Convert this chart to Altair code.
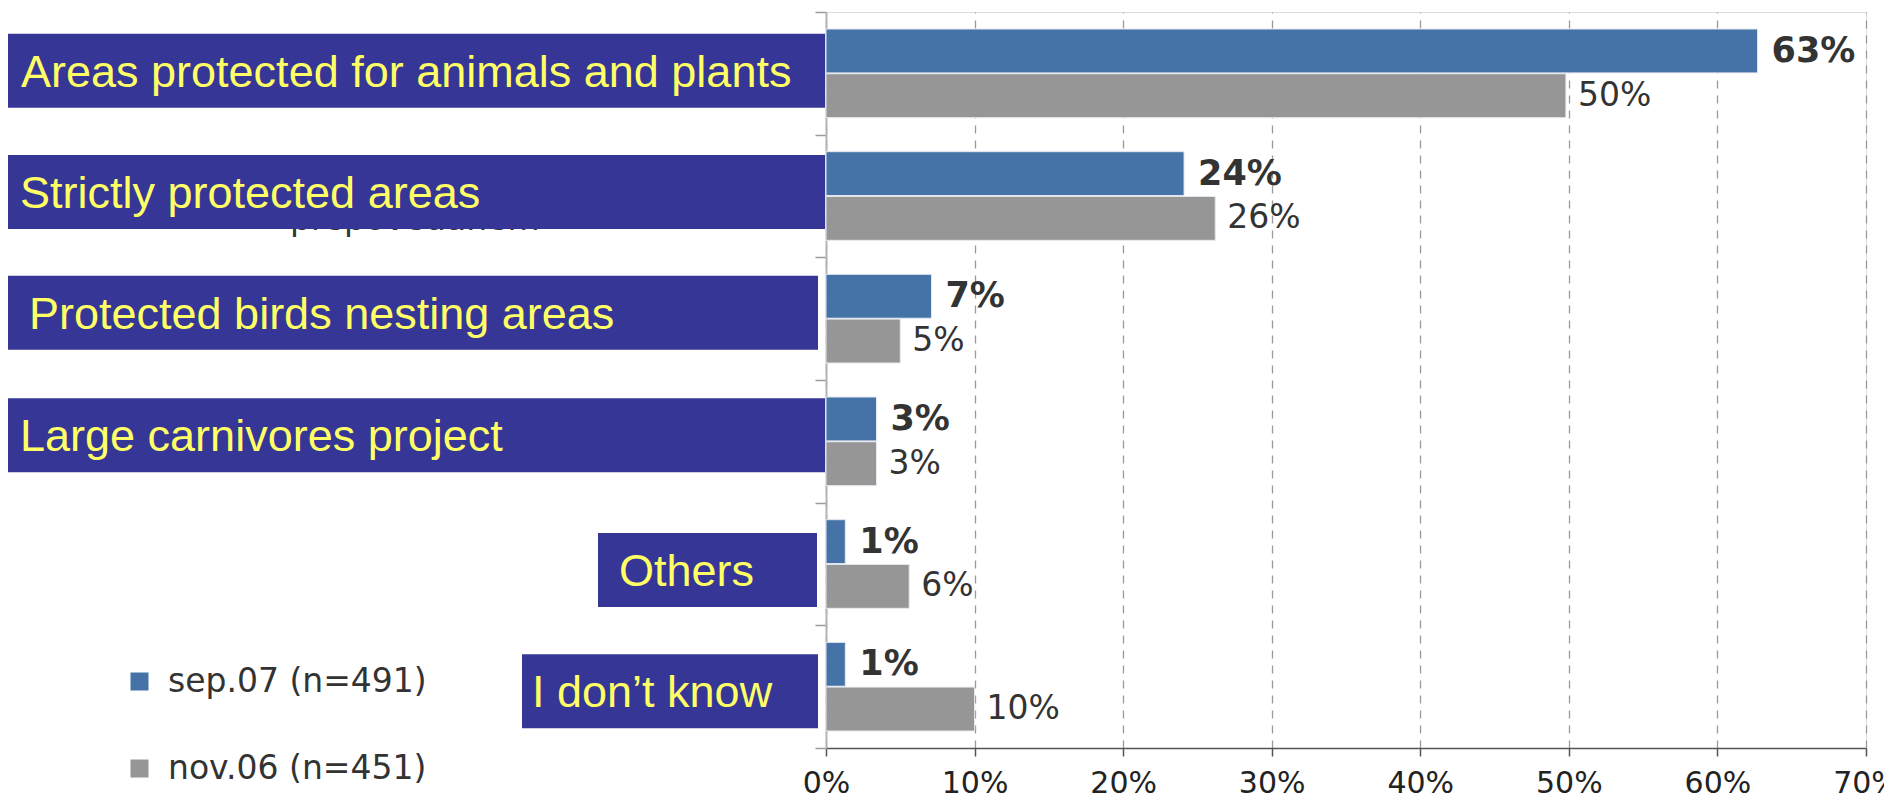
import altair as alt
import pandas as pd

# ---------------- data ----------------
categories = [
    "Areas protected for animals and plants",
    "Strictly protected areas",
    "Protected birds nesting areas",
    "Large carnivores project",
    "Others",
    "I don’t know",
]
series = ["sep.07 (n=491)", "nov.06 (n=451)"]
sep07 = [62.7, 24.1, 7.1, 3.4, 1.3, 1.3]
nov06 = [49.8, 26.2, 5.0, 3.4, 5.6, 10.0]
x_ticks = [0, 10, 20, 30, 40, 50, 60, 70]
hidden_text = "prepovedanem"

# ---------------- layout (pixels relative to plot origin) ----------------
box_left = [-818, -818, -818, -818, -228, -304]
box_right = [-1, -1, -8, -1, -9, -8]
text_left = [-805, -806, -797, -806, -207, -294]
box_dy = [-2.5, -4, -6, -6, 6, 4.5]

BLUE = "#4573a7"
GRAY = "#969696"
BOX = "#363696"
YELLOW = "#ffff66"

rows = []
for s, vals in zip(series, [sep07, nov06]):
    for c, v in zip(categories, vals):
        rows.append({"category": c, "series": s, "value": v, "label": f"{round(v)}%"})
df = pd.DataFrame(rows)
cat_df = pd.DataFrame({"category": categories})

y_enc = alt.Y(
    "category:N",
    sort=categories,
    scale=alt.Scale(domain=categories, paddingInner=0, paddingOuter=0),
    axis=alt.Axis(
        title=None, labels=False, grid=False, tickBand="extent",
        domainColor="#b4b4b4", domainWidth=2,
        tickColor="#9a9a9a", tickSize=11, tickWidth=1.5,
    ),
)
yoff_enc = alt.YOffset(
    "series:N", sort=series,
    scale=alt.Scale(domain=series, paddingInner=0.02, paddingOuter=0.38),
)
x_enc = alt.X(
    "value:Q",
    scale=alt.Scale(domain=[0, 70], nice=False, zero=True),
    axis=alt.Axis(
        values=x_ticks, labelExpr="datum.value + '%'", title=None,
        grid=True, gridDash=[8, 7], gridColor="#9a9a9a", gridWidth=1.3,
        domainColor="#555555", domainWidth=1.5,
        tickColor="#555555", tickSize=8, tickWidth=1.5,
        labelFont="DejaVu Sans", labelFontSize=30, labelColor="#222222",
        labelPadding=12, labelFlush=False, labelOverlap=False,
    ),
)

base = alt.Chart(df)

bars = base.mark_bar(stroke="#e4e9f0", strokeWidth=1).encode(
    y=y_enc,
    yOffset=yoff_enc,
    x=x_enc,
    color=alt.Color(
        "series:N",
        sort=series,
        scale=alt.Scale(domain=series, range=[BLUE, GRAY]),
        legend=alt.Legend(
            title=None, orient="none", legendX=-703, legendY=653,
            symbolType="square", symbolSize=324, symbolStrokeWidth=0,
            labelFont="DejaVu Sans", labelFontSize=33, labelColor="#333333",
            labelOffset=12, rowPadding=53, padding=0, labelLimit=0,
        ),
    ),
)

lab_sep = base.transform_filter(alt.datum.series == series[0]).mark_text(
    align="left", baseline="middle", dx=14, font="DejaVu Sans",
    fontSize=35, fontWeight="bold", color="#333333",
).encode(y=y_enc, yOffset=yoff_enc, x="value:Q", text="label:N")

lab_nov = base.transform_filter(alt.datum.series == series[1]).mark_text(
    align="left", baseline="middle", dx=12, font="DejaVu Sans",
    fontSize=33, color="#333333",
).encode(y=y_enc, yOffset=yoff_enc, x="value:Q", text="label:N")

hidden = alt.Chart(cat_df).transform_filter(
    alt.datum.category == categories[1]
).mark_text(
    align="left", baseline="alphabetic", dy=34, font="DejaVu Sans",
    fontSize=33, color="#333333",
).encode(y=y_enc, x=alt.value(-536), text=alt.value(hidden_text))

layers = [bars, lab_sep, lab_nov, hidden]
for i, cat in enumerate(categories):
    box = alt.Chart(cat_df).transform_filter(alt.datum.category == cat).mark_bar(
        color=BOX, height=alt.RelativeBandSize(0.603), yOffset=box_dy[i],
    ).encode(y=y_enc, x=alt.value(box_left[i]), x2=alt.value(box_right[i]))
    txt = alt.Chart(cat_df).transform_filter(alt.datum.category == cat).mark_text(
        align="left", baseline="middle", font="Liberation Sans", fontSize=45,
        color=YELLOW, dy=box_dy[i] + 2,
    ).encode(y=y_enc, x=alt.value(text_left[i]), text="category:N")
    layers += [box, txt]

chart = alt.layer(*layers).properties(
    width=1040,
    height=736,
    autosize=alt.AutoSizeParams(type="none"),
    padding={"left": 818, "top": 4, "right": 18, "bottom": 50},
).configure_view(stroke=None).configure(background="white")

chart.save("out.html", embed_options={"renderer": "svg", "actions": False})
